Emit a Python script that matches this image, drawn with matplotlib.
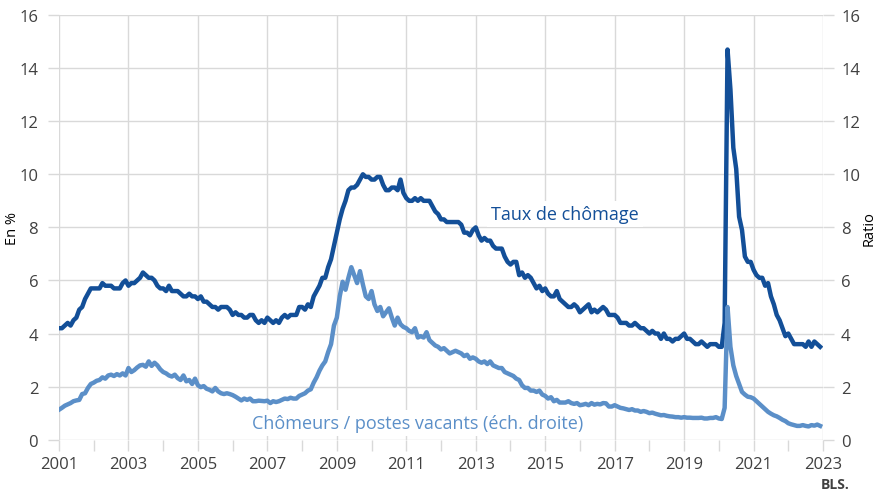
import numpy as np
import matplotlib.pyplot as plt
from matplotlib.ticker import MultipleLocator, FixedLocator

# taux de chomage mensuel (%), janv. 2001 - dec. 2022
chomage = [
    4.2, 4.2, 4.3, 4.4, 4.3, 4.5, 4.6, 4.9, 5.0, 5.3, 5.5, 5.7,
    5.7, 5.7, 5.7, 5.9, 5.8, 5.8, 5.8, 5.7, 5.7, 5.7, 5.9, 6.0,
    5.8, 5.9, 5.9, 6.0, 6.1, 6.3, 6.2, 6.1, 6.1, 6.0, 5.8, 5.7,
    5.7, 5.6, 5.8, 5.6, 5.6, 5.6, 5.5, 5.4, 5.4, 5.5, 5.4, 5.4,
    5.3, 5.4, 5.2, 5.2, 5.1, 5.0, 5.0, 4.9, 5.0, 5.0, 5.0, 4.9,
    4.7, 4.8, 4.7, 4.7, 4.6, 4.6, 4.7, 4.7, 4.5, 4.4, 4.5, 4.4,
    4.6, 4.5, 4.4, 4.5, 4.4, 4.6, 4.7, 4.6, 4.7, 4.7, 4.7, 5.0,
    5.0, 4.9, 5.1, 5.0, 5.4, 5.6, 5.8, 6.1, 6.1, 6.5, 6.8, 7.3,
    7.8, 8.3, 8.7, 9.0, 9.4, 9.5, 9.5, 9.6, 9.8, 10.0, 9.9, 9.9,
    9.8, 9.8, 9.9, 9.9, 9.6, 9.4, 9.4, 9.5, 9.5, 9.4, 9.8, 9.3,
    9.1, 9.0, 9.0, 9.1, 9.0, 9.1, 9.0, 9.0, 9.0, 8.8, 8.6, 8.5,
    8.3, 8.3, 8.2, 8.2, 8.2, 8.2, 8.2, 8.1, 7.8, 7.8, 7.7, 7.9,
    8.0, 7.7, 7.5, 7.6, 7.5, 7.5, 7.3, 7.2, 7.2, 7.2, 6.9, 6.7,
    6.6, 6.7, 6.7, 6.2, 6.3, 6.1, 6.2, 6.1, 5.9, 5.7, 5.8, 5.6,
    5.7, 5.5, 5.4, 5.4, 5.6, 5.3, 5.2, 5.1, 5.0, 5.0, 5.1, 5.0,
    4.8, 4.9, 5.0, 5.1, 4.8, 4.9, 4.8, 4.9, 5.0, 4.9, 4.7, 4.7,
    4.7, 4.6, 4.4, 4.4, 4.4, 4.3, 4.3, 4.4, 4.3, 4.2, 4.2, 4.1,
    4.0, 4.1, 4.0, 4.0, 3.8, 4.0, 3.8, 3.8, 3.7, 3.8, 3.8, 3.9,
    4.0, 3.8, 3.8, 3.7, 3.6, 3.6, 3.7, 3.6, 3.5, 3.6, 3.6, 3.6,
    3.5, 3.5, 4.4, 14.7, 13.2, 11.0, 10.2, 8.4, 7.9, 6.9, 6.7, 6.7,
    6.4, 6.2, 6.1, 6.1, 5.8, 5.9, 5.4, 5.1, 4.7, 4.5, 4.2, 3.9,
    4.0, 3.8, 3.6, 3.6, 3.6, 3.6, 3.5, 3.7, 3.5, 3.7, 3.6, 3.5,
]

# chomeurs / postes vacants (ratio)
ratio = [
    1.13, 1.2, 1.28, 1.33, 1.38, 1.45, 1.48, 1.5, 1.72, 1.75, 1.95, 2.1,
    2.15, 2.22, 2.25, 2.35, 2.3, 2.42, 2.45, 2.4, 2.47, 2.42, 2.5, 2.42,
    2.7, 2.55, 2.62, 2.72, 2.8, 2.82, 2.75, 2.95, 2.78, 2.9, 2.8, 2.65,
    2.55, 2.5, 2.42, 2.38, 2.45, 2.32, 2.25, 2.42, 2.2, 2.25, 2.1, 2.3,
    2.05, 1.98, 2.02, 1.92, 1.88, 1.82, 1.95, 1.82, 1.75, 1.72, 1.75, 1.72,
    1.68, 1.62, 1.55, 1.48, 1.55, 1.5, 1.55, 1.45, 1.45, 1.47, 1.46, 1.45,
    1.47, 1.38, 1.45, 1.42, 1.45, 1.5, 1.55, 1.53, 1.58, 1.55, 1.55, 1.65,
    1.7, 1.75, 1.85, 1.9, 2.15, 2.35, 2.6, 2.8, 2.95, 3.3, 3.6, 4.3,
    4.6, 5.4, 5.95, 5.65, 6.1, 6.5, 6.2, 5.9, 6.35, 5.85, 5.4, 5.3,
    5.6, 5.1, 4.85, 5.0, 4.65, 4.8, 4.95, 4.6, 4.3, 4.6, 4.35, 4.25,
    4.2, 4.1, 4.05, 4.2, 3.85, 3.9, 3.85, 4.05, 3.75, 3.65, 3.55, 3.5,
    3.4, 3.45, 3.35, 3.25, 3.3, 3.35, 3.3, 3.25, 3.15, 3.2, 3.05, 3.1,
    3.05, 2.95, 2.9, 2.95, 2.85, 2.95, 2.8, 2.75, 2.7, 2.7, 2.55, 2.5,
    2.45, 2.4, 2.3, 2.25, 2.05, 1.95, 1.95, 1.85, 1.85, 1.8, 1.85, 1.7,
    1.65, 1.55, 1.6, 1.45, 1.5, 1.4, 1.4, 1.4, 1.45, 1.38, 1.35, 1.38,
    1.3, 1.32, 1.35, 1.3, 1.38, 1.32, 1.35, 1.33, 1.38, 1.37, 1.25, 1.25,
    1.3, 1.25, 1.2, 1.18, 1.15, 1.12, 1.15, 1.1, 1.1, 1.05, 1.08, 1.05,
    1.0, 1.02, 0.98, 0.95, 0.92, 0.93, 0.9, 0.88, 0.87, 0.85, 0.85, 0.83,
    0.85, 0.83, 0.83, 0.82, 0.82, 0.82, 0.83, 0.8, 0.8, 0.82, 0.82, 0.85,
    0.8, 0.78, 1.2, 5.0, 3.5, 2.8, 2.4, 2.1, 1.8, 1.7, 1.62, 1.6,
    1.55, 1.45, 1.35, 1.25, 1.15, 1.05, 0.98, 0.92, 0.88, 0.82, 0.75, 0.7,
    0.62, 0.58, 0.55, 0.52, 0.52, 0.55, 0.52, 0.5, 0.55, 0.53, 0.57, 0.52,
]

annees = list(range(2001, 2024, 2))
annees_mineures = list(range(2002, 2023, 2))

dates = 2001 + np.arange(len(chomage)) / 12

fonce = '#134f98'
clair = '#5b8fc8'
gris = '#d9d9d9'
texte = '#404040'

plt.rcParams['font.family'] = ['Open Sans', 'DejaVu Sans']

fig = plt.figure(figsize=(8.78, 5.02), dpi=100)
ax = fig.add_axes([0.0672, 0.1221, 0.8702, 0.846])
ax2 = ax.twinx()

ax.plot(dates, chomage, color=fonce, lw=3.2, solid_joinstyle='round', zorder=3)
ax2.plot(dates, ratio, color=clair, lw=3.2, solid_joinstyle='round', zorder=3)

for a in (ax, ax2):
    a.set_xlim(2001, 2023)
    a.set_ylim(0, 16)
    a.yaxis.set_major_locator(MultipleLocator(2))
    for s in a.spines.values():
        s.set_visible(False)

ax.xaxis.set_major_locator(FixedLocator(annees))
ax.xaxis.set_minor_locator(FixedLocator(annees_mineures))
ax.grid(True, which='major', color=gris, lw=1)
ax.set_axisbelow(True)
ax.tick_params(axis='both', which='both', length=8, width=1, color=gris,
               labelcolor=texte, labelsize=12, direction='out')
ax.tick_params(axis='x', pad=4)
ax.tick_params(axis='y', pad=7)
ax2.tick_params(axis='y', length=8, width=1, color=gris,
                labelcolor=texte, labelsize=12, pad=5)

ax.set_ylabel('En %', fontsize=10.5, color='black')
ax.yaxis.set_label_coords(-0.051, 0.5)
ax2.set_ylabel('Ratio', fontsize=10.5, color='black', labelpad=1)

ax.text(2013.45, 8.5, 'Taux de chômage', color=fonce, fontsize=13,
        va='center', ha='left', zorder=2,
        bbox=dict(facecolor='white', edgecolor='none', pad=3))
ax.text(2006.56, 0.63, 'Chômeurs / postes vacants (éch. droite)', color=clair,
        fontsize=13, va='center', ha='left', zorder=2,
        bbox=dict(facecolor='white', edgecolor='none', pad=3))

fig.text(0.968, 0.02, 'BLS.', fontsize=10, fontweight='bold', color=texte,
         ha='right', va='bottom')

fig.savefig('out.png', dpi=100)
